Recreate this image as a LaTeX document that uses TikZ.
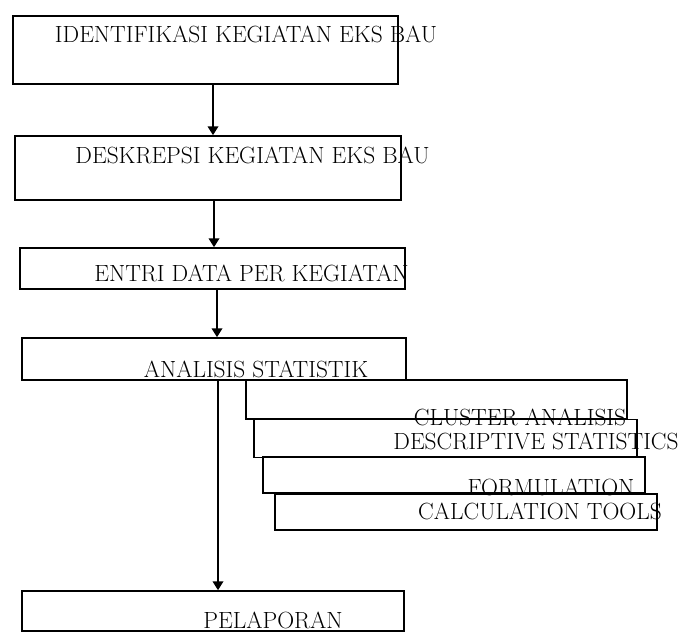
\documentclass[tikz,border=0pt]{standalone}
\usepackage{tikz}
\usetikzlibrary{arrows.meta}
\usetikzlibrary{calc}
\usetikzlibrary{positioning}

\begin{document}
\begin{tikzpicture}[x=0.03cm,y=-0.03cm,-,>={Triangle[length=7.5pt,width=9pt]},line width=1.4pt]
 				 \tikzstyle{blok}=[draw=black, fill=none, inner sep=0pt]
 				 \tikzstyle{teks}=[anchor=base, inner sep=0pt, font=\fontsize{20}{24}\selectfont]
 				 \useasboundingbox (0,0) rectangle (682,633);
 					 % alur utama
 					 \node[blok, minimum width=385*0.03cm, minimum height=68*0.03cm] (B1) at (205.5,50)  {};
 					 \node[blok, minimum width=386*0.03cm, minimum height=64*0.03cm] (B2) at (208,168)   {};
 					 \node[blok, minimum width=385*0.03cm, minimum height=41*0.03cm] (B3) at (212.5,268.5) {};
 					 \node[blok, minimum width=384*0.03cm, minimum height=42*0.03cm] (B4) at (214,359)   {};
 					 \node[blok, minimum width=382*0.03cm, minimum height=40*0.03cm] (B5) at (213,611)   {};
 					 % kotak analisis
 					 \node[blok, minimum width=381*0.03cm, minimum height=39*0.03cm] (C1) at (436.5,399.5) {};
 					 \node[blok, minimum width=383*0.03cm, minimum height=38*0.03cm] (C2) at (445.5,438.5) {};
 					 \node[blok, minimum width=382*0.03cm, minimum height=36*0.03cm] (C3) at (454,475)   {};
 					 \node[blok, minimum width=382*0.03cm, minimum height=36*0.03cm] (C4) at (466,512)   {};
 					 % teks
 					 \node[teks] (T1) at (246,42)    {IDENTIFIKASI KEGIATAN EKS BAU};
 					 \node[teks] (T2) at (252.5,163) {DESKREPSI KEGIATAN EKS BAU};
 					 \node[teks] (T3) at (251.5,281) {ENTRI DATA PER KEGIATAN};
 					 \node[teks] (T4) at (256,377)   {ANALISIS STATISTIK};
 					 \node[teks] (T5) at (520,425.5) {CLUSTER ANALISIS};
 					 \node[teks] (T6) at (536,449.5) {DESCRIPTIVE STATISTICS};
 					 \node[teks] (T7) at (551,495)   {FORMULATION};
 					 \node[teks] (T8) at (540,519.5) {CALCULATION TOOLS};
 					 \node[teks] (T9) at (273,628)   {PELAPORAN};
				\path[->]
				($(B1.south)+(7.5,0)$) edge ($(B2.north)+(5,0)$)
				($(B2.south)+(6,0)$) edge ($(B3.north)+(1.5,0)$)
				($(B3.south)+(4.5,0)$) edge ($(B4.north)+(3,0)$)
				($(B4.south)+(4,0)$) edge ($(B5.north)+(5,0)$);
\end{tikzpicture}
\end{document}
